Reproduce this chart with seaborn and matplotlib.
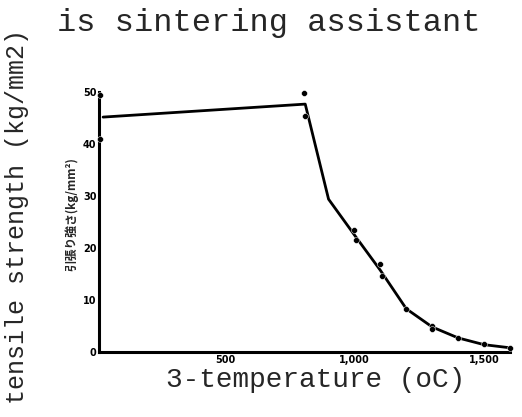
import matplotlib
matplotlib.use("Agg")
import matplotlib.pyplot as plt
import seaborn as sns
import pandas as pd

# curve through the measured points (temperature degC, strength kg/mm2)
line_temp = [30, 810, 900, 1000, 1100, 1200, 1300, 1400, 1500, 1600]
line_strength = [45.2, 47.7, 29.4, 22.5, 15.7, 8.3, 4.8, 2.7, 1.4, 0.8]

# individual measurements
pt_temp = [20, 20, 805, 810, 1000, 1005, 1100, 1105, 1200, 1300, 1300, 1400, 1500, 1600]
pt_strength = [49.5, 41.0, 49.8, 45.4, 23.5, 21.5, 16.9, 14.6, 8.3, 5.0, 4.4, 2.7, 1.5, 0.8]

xticks = [500, 1000, 1500]
xtick_labels = ["500", "1,000", "1,500"]
yticks = [0, 10, 20, 30, 40, 50]

sns.set_style("white")
plt.rcParams["font.family"] = ["Liberation Mono", "DejaVu Sans"]

fig = plt.figure(figsize=(5.22, 4.17), dpi=100)
ax = fig.add_axes([0.19, 0.156, 0.787, 0.623])

df_line = pd.DataFrame({"t": line_temp, "s": line_strength})
df_pts = pd.DataFrame({"t": pt_temp, "s": pt_strength})
sns.lineplot(data=df_line, x="t", y="s", color="black", lw=2, ax=ax)
sns.scatterplot(data=df_pts, x="t", y="s", color="black", s=18, ax=ax, clip_on=False, zorder=3)

ax.set_xlim(15, 1600)
ax.set_ylim(0, 50)
ax.set_xticks(xticks)
ax.set_xticklabels(xtick_labels, fontsize=7, fontweight="bold", family="DejaVu Sans")
ax.set_yticks(yticks)
ax.set_yticklabels([str(v) for v in yticks], fontsize=7, fontweight="bold", family="DejaVu Sans")
ax.tick_params(direction="in", length=3, width=1.5, pad=2, colors="black")
ax.set_xlabel("")
ax.set_ylabel("")
for side in ["top", "right"]:
    ax.spines[side].set_visible(False)
for side in ["left", "bottom"]:
    ax.spines[side].set_linewidth(2.2)
    ax.spines[side].set_color("black")

# small original Japanese axis label
ax.text(-0.068, 0.53, "引張り強さ(kg/mm²)", rotation=90, transform=ax.transAxes,
        ha="center", va="center", fontsize=8.5, fontweight="bold",
        family=["Noto Sans CJK JP", "DejaVu Sans"])

fig.text(0.515, 0.945, "is sintering assistant", ha="center", va="center", fontsize=23)
fig.text(0.605, 0.088, "3-temperature (oC)", ha="center", va="center", fontsize=20)
fig.text(0.032, 0.48, "tensile strength (kg/mm2)", ha="center", va="center",
         rotation=90, fontsize=18)

fig.savefig("out.png", dpi=100)
plt.close(fig)
